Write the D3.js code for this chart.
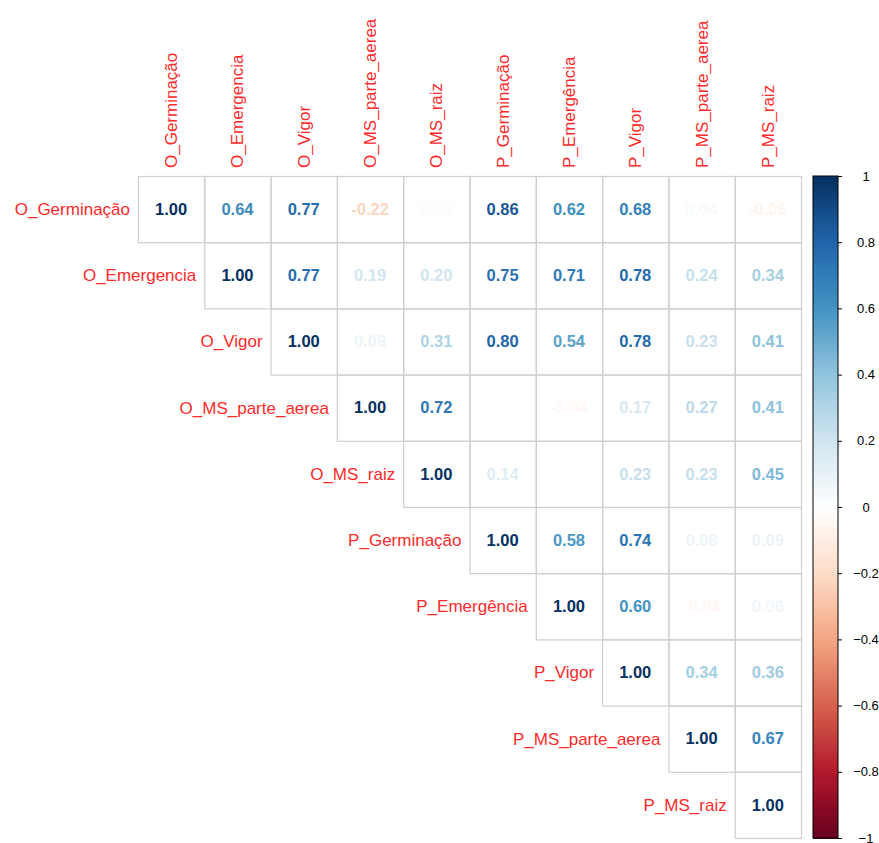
<!DOCTYPE html>
<html>
<head>
<meta charset="utf-8">
<script src="https://cdn.jsdelivr.net/npm/d3@7"></script>
<style>
  body { margin: 0; background: #fff; }
  svg { display: block; font-family: "Liberation Sans", Arial, sans-serif; }
</style>
</head>
<body>
<div id="visual"></div>
<script>
const variables = ["O_Germinação", "O_Emergencia", "O_Vigor", "O_MS_parte_aerea", "O_MS_raiz",
    "P_Germinação", "P_Emergência", "P_Vigor", "P_MS_parte_aerea", "P_MS_raiz"];

// upper triangle rows, starting from the diagonal
const row0 = [1.00, 0.64, 0.77, -0.22, 0.02, 0.86, 0.62, 0.68, 0.04, -0.06];
const row1 = [1.00, 0.77, 0.19, 0.20, 0.75, 0.71, 0.78, 0.24, 0.34];
const row2 = [1.00, 0.08, 0.31, 0.80, 0.54, 0.78, 0.23, 0.41];
const row3 = [1.00, 0.72, 0.00, -0.04, 0.17, 0.27, 0.41];
const row4 = [1.00, 0.14, 0.00, 0.23, 0.23, 0.45];
const row5 = [1.00, 0.58, 0.74, 0.08, 0.09];
const row6 = [1.00, 0.60, -0.04, 0.06];
const row7 = [1.00, 0.34, 0.36];
const row8 = [1.00, 0.67];
const row9 = [1.00];
const rows = [row0, row1, row2, row3, row4, row5, row6, row7, row8, row9];

const colorTicks = [-1, -0.8, -0.6, -0.4, -0.2, 0, 0.2, 0.4, 0.6, 0.8, 1];
const palette = ["#67001F", "#B2182B", "#D6604D", "#F4A582", "#FDDBC7", "#FFFFFF",
    "#D1E5F0", "#92C5DE", "#4393C3", "#2166AC", "#053061"];

const width = 879;
const height = 843;
const gridLeft = 138, gridTop = 176, gridRight = 801, gridBottom = 838;

const svg = d3.select("#visual").append("svg")
    .attr("width", width)
    .attr("height", height);

const x = d3.scaleBand().domain(variables).range([gridLeft, gridRight]);
const y = d3.scaleBand().domain(variables).range([gridTop, gridBottom]);
const color = d3.scaleLinear()
    .domain(d3.range(palette.length).map(i => -1 + i * 2 / (palette.length - 1)))
    .range(palette);

const cells = [];
rows.forEach((r, i) => r.forEach((v, k) => {
    cells.push({ row: variables[i], col: variables[i + k], value: v });
}));

const cell = svg.append("g").selectAll("g")
    .data(cells)
    .enter().append("g");

cell.append("rect")
    .attr("x", d => x(d.col) + 0.5)
    .attr("y", d => y(d.row) + 0.5)
    .attr("width", x.bandwidth())
    .attr("height", y.bandwidth())
    .attr("fill", "none")
    .attr("stroke", "#cfcfcf")
    .attr("stroke-width", 1.2);

cell.append("text")
    .attr("x", d => x(d.col) + x.bandwidth() / 2)
    .attr("y", d => y(d.row) + y.bandwidth() / 2)
    .attr("dy", "0.35em")
    .attr("text-anchor", "middle")
    .attr("font-size", 16.5)
    .attr("font-weight", "bold")
    .attr("fill", d => color(d.value))
    .text(d => d.value.toFixed(2));

// row labels
svg.append("g").selectAll("text")
    .data(variables)
    .enter().append("text")
    .attr("x", d => x(d) - 8)
    .attr("y", d => y(d) + y.bandwidth() / 2)
    .attr("dy", "0.35em")
    .attr("text-anchor", "end")
    .attr("font-size", 17)
    .attr("fill", "#ff2a2a")
    .text(d => d);

// column labels
svg.append("g").selectAll("text")
    .data(variables)
    .enter().append("text")
    .attr("transform", d => "translate(" + (x(d) + x.bandwidth() / 2) + "," + (gridTop - 8) + ") rotate(-90)")
    .attr("dy", "0.35em")
    .attr("text-anchor", "start")
    .attr("font-size", 17)
    .attr("fill", "#ff2a2a")
    .text(d => d);

// colour legend
const barX = 813, barW = 25;
const legendY = d3.scaleLinear().domain([-1, 1]).range([gridBottom, gridTop]);
const steps = d3.range(-1, 1, 0.01);
const legend = svg.append("g");
legend.selectAll("rect")
    .data(steps)
    .enter().append("rect")
    .attr("x", barX)
    .attr("y", d => legendY(d + 0.01))
    .attr("width", barW)
    .attr("height", legendY(-1) - legendY(-0.99) + 1)
    .attr("shape-rendering", "crispEdges")
    .attr("fill", d => color(d + 0.005));
legend.append("rect")
    .attr("x", barX)
    .attr("y", gridTop)
    .attr("width", barW)
    .attr("height", gridBottom - gridTop)
    .attr("fill", "none")
    .attr("stroke", "#000")
    .attr("stroke-width", 1);

const legendAxis = d3.axisRight(legendY)
    .tickValues(colorTicks)
    .tickSize(4)
    .tickFormat(d3.format("~g"));
const ax = legend.append("g")
    .attr("transform", "translate(" + (barX + barW) + ",0)")
    .call(legendAxis);
ax.select(".domain").remove();
ax.selectAll("text")
    .attr("x", 28)
    .attr("text-anchor", "middle")
    .attr("font-size", 13)
    .attr("font-family", "Liberation Sans, Arial, sans-serif")
    .attr("fill", "#000");
</script>
</body>
</html>
